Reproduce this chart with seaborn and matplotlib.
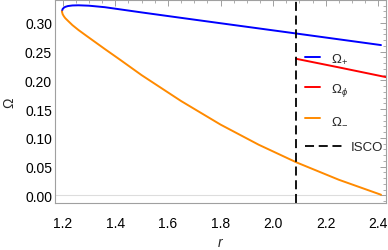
import numpy as np
import pandas as pd
import seaborn as sns
import matplotlib.pyplot as plt
from matplotlib.ticker import MultipleLocator

# values
r_plus = [1.197, 1.200, 1.205, 1.21, 1.22, 1.237, 1.26, 1.30, 1.36, 1.42,
          1.50, 1.64, 1.80, 1.95, 2.09, 2.25, 2.41]
om_plus = [0.320, 0.3242, 0.3265, 0.3278, 0.3292, 0.3302, 0.3305, 0.3298,
           0.3272, 0.3233, 0.3181, 0.3093, 0.2993, 0.2900, 0.2813, 0.2713,
           0.2613]

r_minus = [1.197, 1.200, 1.205, 1.21, 1.22, 1.237, 1.26, 1.29, 1.36, 1.42,
           1.50, 1.65, 1.80, 1.945, 2.09, 2.25, 2.41]
om_minus = [0.320, 0.3148, 0.3110, 0.3080, 0.3035, 0.2960, 0.2875, 0.2775,
            0.2545, 0.2352, 0.2090, 0.1640, 0.1230, 0.0880, 0.0570, 0.0270,
            0.0010]

r_phi = [2.087, 2.25, 2.43]
om_phi = [0.2375, 0.2225, 0.2055]

r_isco = 2.087

labels = [r"$\Omega_{+}$", r"$\Omega_{\phi}$", r"$\Omega_{-}$"]

df = pd.concat([
    pd.DataFrame({"r": r_plus, "Omega": om_plus, "curve": labels[0]}),
    pd.DataFrame({"r": r_phi, "Omega": om_phi, "curve": labels[1]}),
    pd.DataFrame({"r": r_minus, "Omega": om_minus, "curve": labels[2]}),
], ignore_index=True)

sns.set_theme(style="white")
plt.rcParams["font.family"] = ["Liberation Sans", "DejaVu Sans"]
plt.rcParams["mathtext.fontset"] = "custom"
plt.rcParams["mathtext.rm"] = "Liberation Sans"
plt.rcParams["mathtext.it"] = "Liberation Sans:italic"

palette = {labels[0]: "#0000ff", labels[1]: "#ff0000", labels[2]: "#ff8a00"}

fig = plt.figure(figsize=(3.88, 2.51), dpi=100)
ax = fig.add_axes([0.143, 0.187, 0.852, 0.809])

ax.axhline(0, color="#dddddd", lw=0.8, zorder=0)

sns.lineplot(data=df, x="r", y="Omega", hue="curve", hue_order=labels,
             palette=palette, sort=False, estimator=None, linewidth=1.4,
             ax=ax)
ax.axvline(r_isco, color="black", lw=1.3, dashes=(5, 2.6), label="ISCO")

ax.set_xlim(1.1726, 2.4293)
ax.set_ylim(-0.0135, 0.3397)

ax.xaxis.set_major_locator(MultipleLocator(0.2))
ax.xaxis.set_minor_locator(MultipleLocator(0.05))
ax.yaxis.set_major_locator(MultipleLocator(0.05))
ax.yaxis.set_minor_locator(MultipleLocator(0.01))
ax.xaxis.set_major_formatter(lambda v, p: f"{v:.1f}")
ax.yaxis.set_major_formatter(lambda v, p: f"{v:.2f}")

for side in ax.spines.values():
    side.set_color("#a0a0a0")
    side.set_linewidth(0.8)
ax.tick_params(which="both", direction="in", top=True, right=True,
               color="#a0a0a0", labelsize=10, labelcolor="black")
ax.tick_params(which="major", length=4, width=0.7)
ax.tick_params(which="minor", length=2.2, width=0.6)
ax.tick_params(axis="x", pad=9)
ax.tick_params(axis="y", pad=2.5)

ax.set_xlabel("$r$", fontsize=10, labelpad=4)
ax.set_ylabel("Ω", fontsize=10, labelpad=6)

handles, lbls = ax.get_legend_handles_labels()
leg1 = ax.legend(handles[:3], lbls[:3], loc="upper left",
                 bbox_to_anchor=(0.755, 0.745), frameon=False, fontsize=9.5,
                 handlelength=1.15, handletextpad=0.8, labelspacing=1.2,
                 borderpad=0, borderaxespad=0)
ax.add_artist(leg1)
ax.legend(handles[3:], lbls[3:], loc="upper left",
          bbox_to_anchor=(0.755, 0.305), frameon=False, fontsize=9.5,
          handlelength=3.0, handletextpad=0.45, borderpad=0, borderaxespad=0)

fig.savefig("out.png", dpi=100)
